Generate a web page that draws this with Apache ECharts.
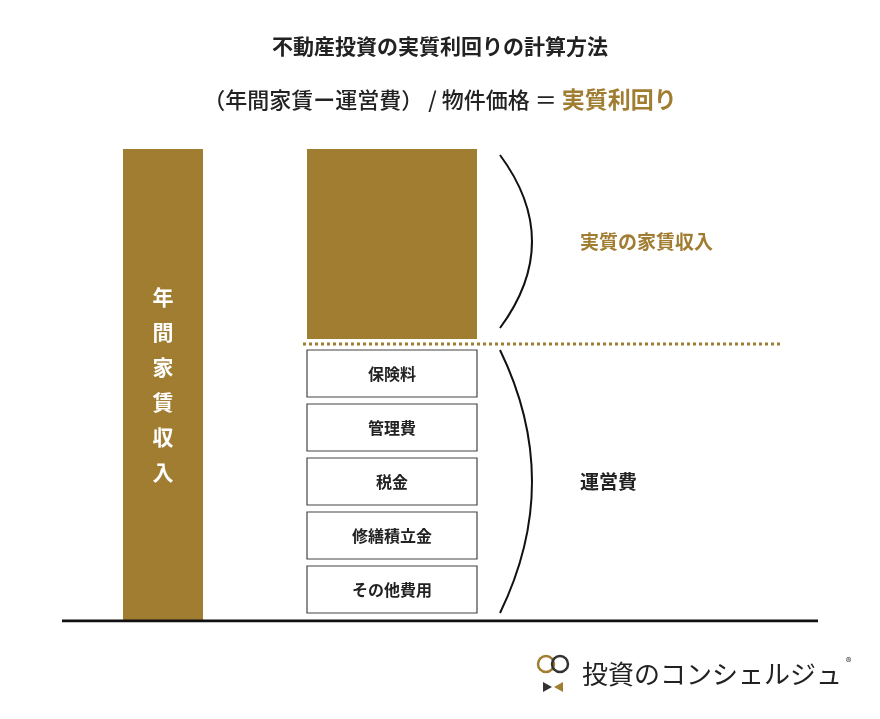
<!DOCTYPE html>
<html>
<head>
<meta charset="utf-8" />
<title>不動産投資の実質利回りの計算方法</title>
<script src="https://cdn.jsdelivr.net/npm/echarts@6/dist/echarts.min.js"></script>
<style>html,body{margin:0;background:#fff}#c{width:880px;height:719px}</style>
</head>
<body>
<div id="c"></div>
<script>
var GOLD = '#a07d31';
var FONT = '"Noto Sans CJK JP", sans-serif';
// blocks: [left, right, bottom, top, label, kind]
var incomeBar = [[123, 203, 0, 472, '年\n間\n家\n賃\n収\n入', 'income']];
var costNames = ['その他費用', '修繕積立金', '税金', '管理費', '保険料'];
var costLow = [8, 62, 116, 170, 224];
var costHigh = [55, 109, 163, 217, 271];
var netBlock = [[307, 477, 282, 472, '', 'net']];
var dividerLevel = 277;
// braces: [x, bottom, top, label, color]
var braces = [[500, 293, 466, '実質の家賃収入', GOLD], [500, 8, 271, '運営費', '#222']];

var blocks = incomeBar.concat(netBlock);
costNames.forEach(function (n, i) { blocks.push([307, 477, costLow[i], costHigh[i], n, 'cost']); });

var chart = echarts.init(document.getElementById('c'));
chart.setOption({
  animation: false,
  grid: {left: 0, right: 0, top: 149, bottom: 98},
  xAxis: {type: 'value', min: 0, max: 880, show: false},
  yAxis: {type: 'value', min: 0, max: 472, show: false},
  title: [
    {text: '不動産投資の実質利回りの計算方法', left: 'center', top: 31,
     textStyle: {fontFamily: FONT, fontSize: 21, fontWeight: 'bold', color: '#222'}},
    {text: '{a|（年間家賃ー運営費） / 物件価格 ＝ }{b|実質利回り}', left: 'center', top: 83,
     textStyle: {rich: {
       a: {fontFamily: FONT, fontSize: 22, fontWeight: 500, color: '#222'},
       b: {fontFamily: FONT, fontSize: 23, fontWeight: 'bold', color: GOLD}}}}
  ],
  series: [{
    type: 'custom',
    data: blocks,
    renderItem: function (params, api) {
      var d = blocks[params.dataIndex];
      var p0 = api.coord([d[0], d[3]]), p1 = api.coord([d[1], d[2]]);
      var shape = {x: p0[0], y: p0[1], width: p1[0] - p0[0], height: p1[1] - p0[1]};
      var isCost = d[5] === 'cost';
      return {
        type: 'rect', shape: shape,
        style: {fill: isCost ? '#fff' : GOLD, stroke: isCost ? '#444' : null, lineWidth: 1.2},
        textContent: {style: {text: d[4], fontFamily: FONT, fontSize: isCost ? 16 : 21,
          fontWeight: 'bold', fill: isCost ? '#222' : '#fff', lineHeight: 35, align: 'center'}},
        textConfig: {position: 'inside'}
      };
    }
  }, {
    type: 'custom',
    data: braces,
    renderItem: function (params, api) {
      var d = braces[params.dataIndex];
      var a = api.coord([d[0], d[2]]), b = api.coord([d[0], d[1]]);
      var mid = (a[1] + b[1]) / 2;
      return {type: 'group', children: [
        {type: 'path', shape: {pathData: 'M' + a[0] + ' ' + a[1] + ' Q' + (a[0] + 64) + ' ' + mid + ' ' + b[0] + ' ' + b[1]},
         style: {fill: null, stroke: '#111', lineWidth: 2}},
        {type: 'text', x: 580, y: mid, style: {text: d[3], fontFamily: FONT, fontSize: 19,
         fontWeight: 'bold', fill: d[4], verticalAlign: 'middle'}}
      ]};
    }
  }, {
    type: 'line',
    data: [[303, dividerLevel], [783, dividerLevel]],
    symbol: 'none',
    lineStyle: {color: GOLD, width: 3, type: [3, 3]}
  }, {
    type: 'line',
    data: [[62, 0], [818, 0]],
    symbol: 'none',
    lineStyle: {color: '#111', width: 3}
  }],
  graphic: [
    {type: 'circle', shape: {cx: 546, cy: 664, r: 8}, style: {fill: null, stroke: GOLD, lineWidth: 2.5}},
    {type: 'circle', shape: {cx: 560, cy: 664, r: 8}, style: {fill: null, stroke: '#333', lineWidth: 2.5}},
    {type: 'polygon', shape: {points: [[543, 682], [543, 692], [552, 687]]}, style: {fill: '#333'}},
    {type: 'polygon', shape: {points: [[563, 682], [563, 692], [554, 687]]}, style: {fill: GOLD}},
    {type: 'text', x: 582, y: 674, style: {text: '投資のコンシェルジュ', fontFamily: FONT, fontSize: 26,
      fill: '#222', verticalAlign: 'middle'}},
    {type: 'text', x: 846, y: 656, style: {text: '®', fontFamily: FONT, fontSize: 11, fill: '#222'}}
  ]
});
</script>
</body>
</html>
